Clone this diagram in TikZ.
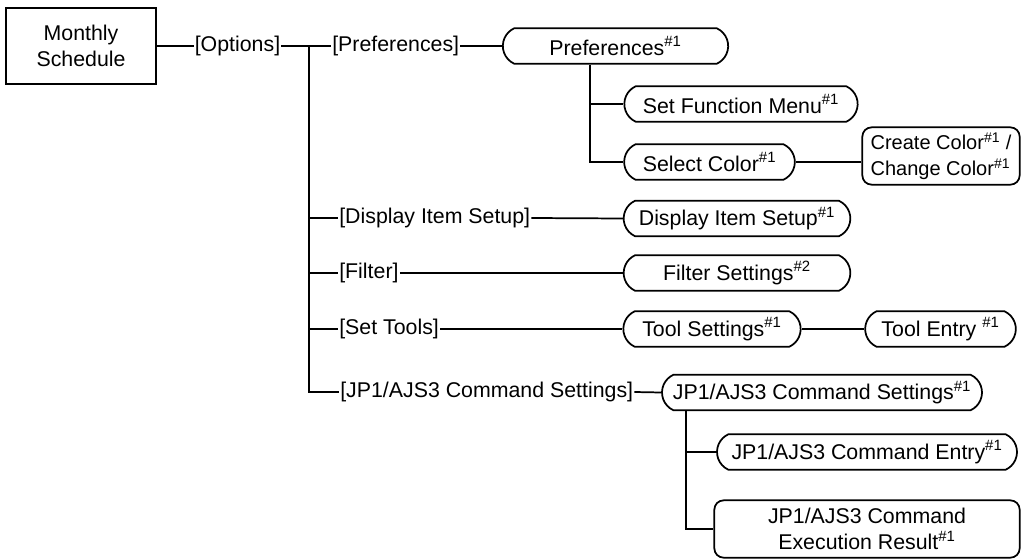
\documentclass[tikz,border=0pt]{standalone}
\usepackage{fontspec}
\setmainfont{Liberation Sans}
\usepackage{tikz}
\usetikzlibrary{shapes.misc}
\newcommand{\fnref}[1]{\textsuperscript{\#{}#1}}

\begin{document}
\begin{tikzpicture}[x=0.75pt, y=-0.75pt, line width=1.3pt,
  every node/.style = {font=\fontsize{16}{19.5}\selectfont},
  win/.style = {draw, rectangle, minimum height=57pt},
  pill/.style = {draw, rounded rectangle, rounded rectangle arc length=130, minimum height=26.5pt, inner xsep=2pt},
  tall/.style = {draw, rounded corners=7pt, minimum height=43pt, inner xsep=3pt},
  menu/.style = {inner xsep=0.3pt, inner ysep=0pt, text height=11.7pt, text depth=3.4pt}]
  \useasboundingbox (0,0) rectangle (1024,560);

  % start window and menu
  \node[win, minimum width=112pt, align=center] (ms) at (81,46) {Monthly\\Schedule};
  \node[menu] (opt) at (237.5,46) {[Options]};
  \coordinate (j0) at (309,46);

  % menu commands
  \node[menu, anchor=west] (prefl) at (331,46) {[Preferences]};
  \node[menu, anchor=west] (displ) at (338,218) {[Display Item Setup]};
  \node[menu, anchor=west] (filtl) at (338,273) {[Filter]};
  \node[menu, anchor=west] (tooll) at (338,329) {[Set Tools]};
  \node[menu, anchor=west] (jpl) at (339,392) {[JP1/AJS3 Command Settings]};

  % dialog boxes
  \node[pill, minimum width=173pt] (pref) at (615.5,46) {Preferences\fnref{1}};
  \node[pill, minimum width=179pt] (setfn) at (741,104) {Set Function Menu\fnref{1}};
  \node[pill, minimum width=132pt] (selc) at (709.5,162) {Select Color\fnref{1}};
  \node[tall, minimum width=118pt, align=left, font=\fontsize{15}{19.5}\selectfont] (crc) at (941,156) {Create Color\fnref{1} /\\Change Color\fnref{1}};
  \node[pill, minimum width=174pt] (disp) at (737,218.5) {Display Item Setup\fnref{1}};
  \node[pill, minimum width=174pt] (filt) at (737,273) {Filter Settings\fnref{2}};
  \node[pill, minimum width=137pt] (tools) at (712,329) {Tool Settings\fnref{1}};
  \node[pill, minimum width=117pt] (toolent) at (940.5,329) {Tool Entry \fnref{1}};
  \node[pill, minimum width=244pt] (jpset) at (822,392.5) {JP1/AJS3 Command Settings\fnref{1}};
  \node[pill, minimum width=229pt] (jpent) at (867,452) {JP1/AJS3 Command Entry\fnref{1}};
  \node[tall, minimum width=229pt, align=center] (jpres) at (867,529) {JP1/AJS3 Command\\Execution Result\fnref{1}};

  \coordinate (pv) at (590,0);
  \coordinate (jv) at (686,0);

  % connectors
  \draw (ms.east) -- (opt.west);
  \draw (opt.east) -- (prefl.west);
  \draw (j0) |- (jpl.west);
  \draw (j0 |- displ.west) -- (displ.west);
  \draw (j0 |- filtl.west) -- (filtl.west);
  \draw (j0 |- tooll.west) -- (tooll.west);

  \draw (prefl.east) -- (pref.west);
  \draw (pref.south -| pv) |- (selc.west);
  \draw (pv |- setfn.west) -- (setfn.west);
  \draw (selc.east) -- (selc.east -| crc.west);

  \draw (displ.east) -- (disp.west);
  \draw (filtl.east) -- (filt.west);
  \draw (tooll.east) -- (tools.west);
  \draw (tools.east) -- (toolent.west);

  \draw (jpl.east) -- (jpset.west);
  \draw (jpset.south -| jv) |- (jpres.west);
  \draw (jv |- jpent.west) -- (jpent.west);
\end{tikzpicture}
\end{document}
